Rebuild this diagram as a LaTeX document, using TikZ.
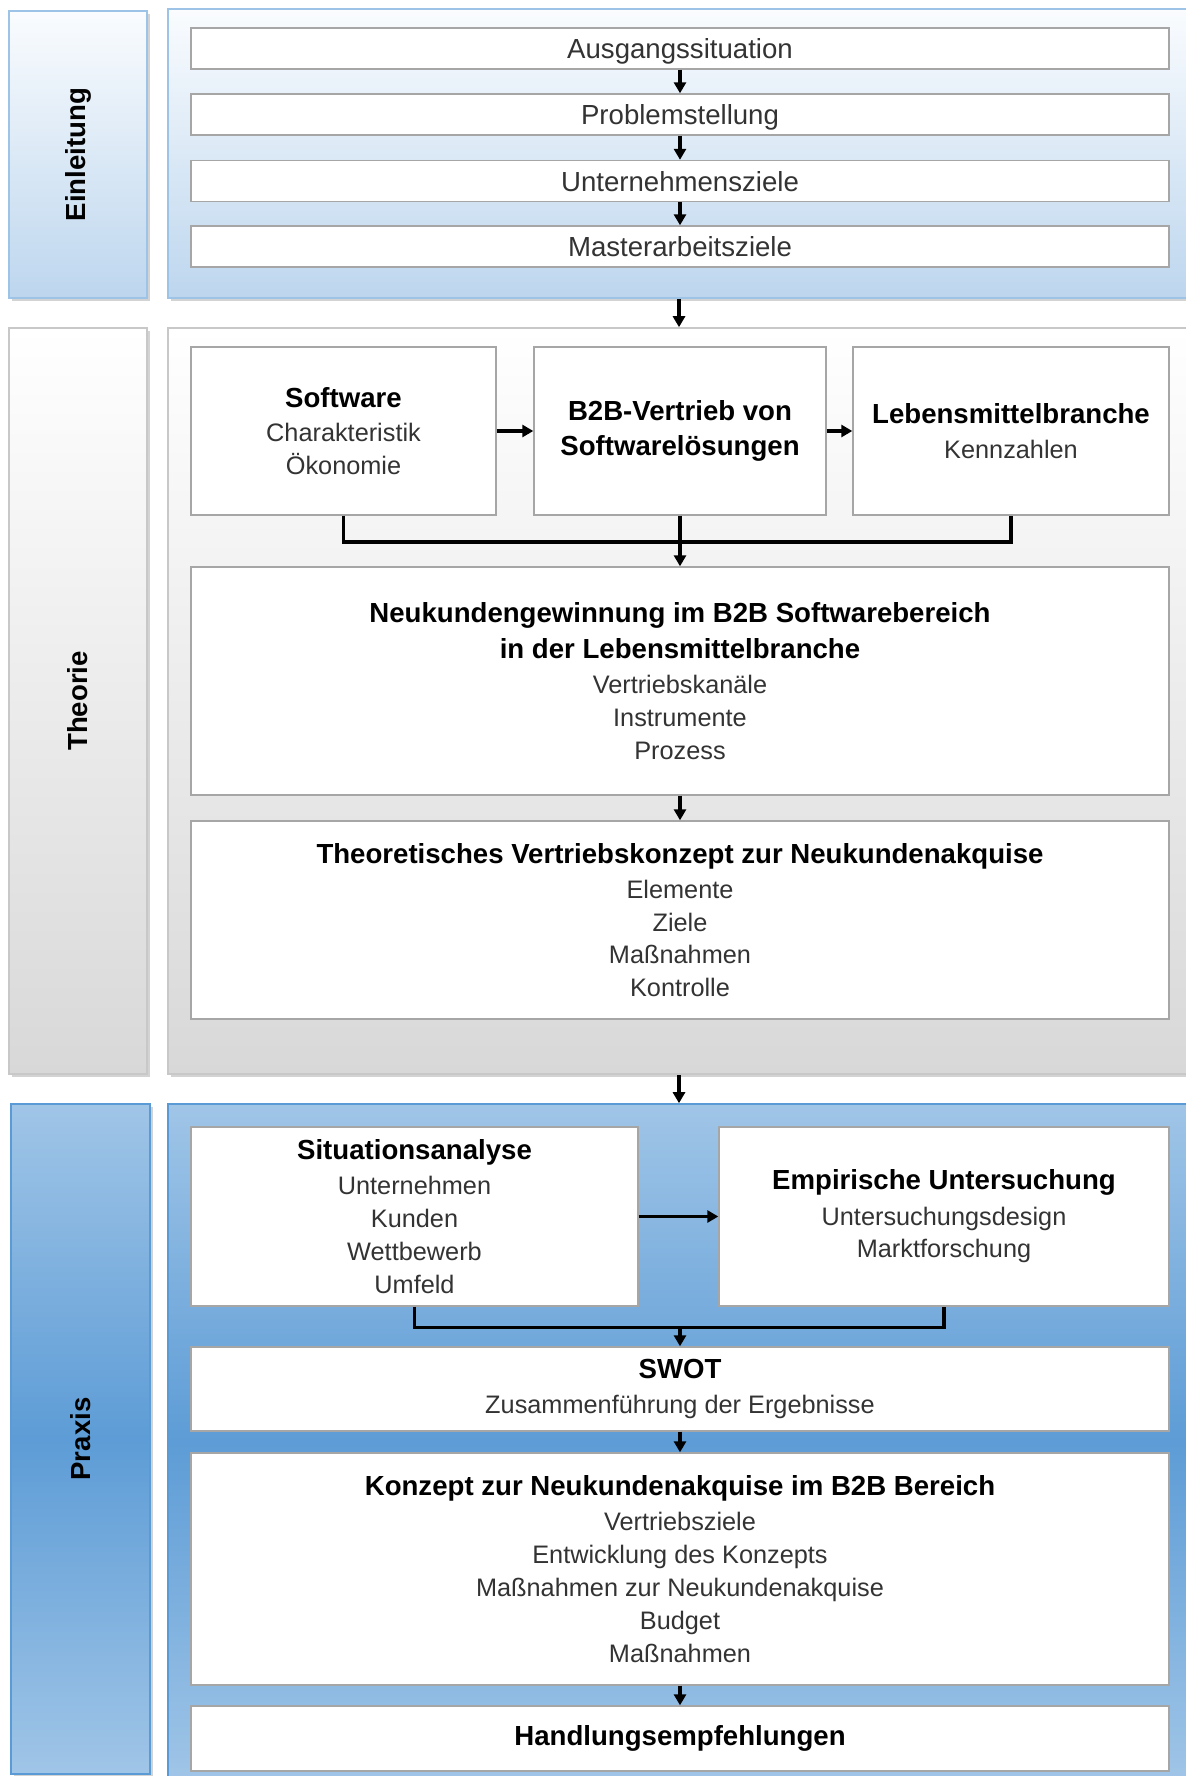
\documentclass[tikz,border=0pt]{standalone}
\usepackage{fontspec}
\setmainfont{Liberation Sans}
\usepackage{tikz}
\usetikzlibrary{arrows.meta, shadows, positioning}
\usepackage{xcolor}

\definecolor{IntroTop}{RGB}{250,252,254}
\definecolor{IntroBottom}{RGB}{189,214,238}
\definecolor{IntroEdge}{RGB}{157,195,230}
\definecolor{TheoryBottom}{RGB}{216,216,216}
\definecolor{TheoryEdge}{RGB}{200,200,200}
\definecolor{PraxisLight}{RGB}{160,197,231}
\definecolor{PraxisDark}{RGB}{93,156,214}
\definecolor{PraxisEdge}{RGB}{91,155,213}
\definecolor{BoxEdge}{RGB}{166,166,166}

\newcommand{\boxfont}{\fontsize{12.65pt}{16.4pt}\selectfont}
\newcommand{\bigfont}{\fontsize{13.8pt}{16.5pt}\selectfont}
\newcommand{\heading}[1]{{\bigfont\bfseries\color{black}#1}}

\begin{document}
\begin{tikzpicture}[x=0.5pt, y=-0.5pt,
    panel/.style={inner sep=0pt, line width=0.8pt,
      drop shadow={shadow xshift=1.6pt, shadow yshift=-1.6pt, opacity=0.35}},
    intro/.style={panel, draw=IntroEdge, top color=IntroTop, bottom color=IntroBottom},
    theory/.style={panel, draw=TheoryEdge, top color=white, bottom color=TheoryBottom},
    praxis/.style={panel, draw=PraxisEdge, top color=PraxisLight, bottom color=PraxisLight,
      middle color=PraxisDark},
    sidelabel/.style={font=\bigfont\bfseries, text=black},
    stepbox/.style={draw=BoxEdge, fill=white, line width=0.7pt, inner sep=0pt,
      align=center, font=\boxfont, text=black!80, minimum width=489pt},
    introbox/.style={stepbox, font=\bigfont, minimum height=20.5pt,
      text height=13pt, text depth=2.9pt},
    flow/.style={-{Triangle[length=5.5pt, width=6pt]}, line width=1.6pt},
    bracket/.style={line width=1.9pt}]

      \useasboundingbox (0,0) rectangle (1186,1776);
      \clip (0,0) rectangle (1186,1776);

      % Einleitung panels
      \node[intro, minimum width=69pt, minimum height=143.5pt] (einlSide) at (78,154.5) {};
      \node[sidelabel, rotate=90] (einlLabel) at (einlSide) {Einleitung};
      \node[intro, minimum width=511pt, minimum height=144.5pt] (einlMain) at (679,153.5) {};

      \node[introbox] (ausg) at (680,48.5) {Ausgangssituation};
      \node[introbox] (prob) at (680,114.5) {Problemstellung};
      \node[introbox] (uziele) at (680,181) {Unternehmensziele};
      \node[introbox] (mziele) at (680,246.5) {Masterarbeitsziele};

      \draw[flow] (ausg) -- (prob);
      \draw[flow] (prob) -- (uziele);
      \draw[flow] (uziele) -- (mziele);

      % Theorie panels
      \node[theory, minimum width=69pt, minimum height=373pt] (theoSide) at (78,701) {};
      \node[sidelabel, rotate=90] (theoLabel) at (theoSide) {Theorie};
      \node[theory, minimum width=511pt, minimum height=373pt] (theoMain) at (679,701) {};

      \draw[flow] (einlMain.south) -- (theoMain.north);

      \node[stepbox, minimum width=152.5pt, minimum height=84pt] (software) at (343.5,431)
            {\heading{Software}\\[1pt]Charakteristik\\Ökonomie};
      \node[stepbox, minimum width=146pt, minimum height=84pt] (b2b) at (680,431)
            {\heading{B2B-Vertrieb von}\\[1.5pt]\heading{Softwarelösungen}};
      \node[stepbox, minimum width=158pt, minimum height=84pt] (lebens) at (1011,431)
            {\heading{Lebensmittelbranche}\\[1pt]Kennzahlen};
      \node[stepbox, minimum height=114pt] (neukunden) at (680,681)
            {\heading{Neukundengewinnung im B2B Softwarebereich}\\[1.6pt]
             \heading{in der Lebensmittelbranche}\\[1.2pt]
             Vertriebskanäle\\Instrumente\\Prozess};
      \node[stepbox, minimum height=99pt] (theokonzept) at (680,920)
            {\heading{Theoretisches Vertriebskonzept zur Neukundenakquise}\\[1.2pt]
             Elemente\\Ziele\\Maßnahmen\\Kontrolle};

      \draw[flow] (software) -- (b2b);
      \draw[flow] (b2b) -- (lebens);
      \draw[bracket] (software.south) -- ++(0,26) -| (lebens.south);
      \draw[flow] (b2b.south) -- (neukunden.north);
      \draw[flow] (neukunden) -- (theokonzept);

      % Praxis panels
      \node[praxis, minimum width=69.5pt, minimum height=335pt] (praxSide) at (80.5,1439) {};
      \node[sidelabel, rotate=90] (praxLabel) at (praxSide) {Praxis};
      \node[praxis, minimum width=511pt, minimum height=338pt] (praxMain) at (679,1442) {};

      \draw[flow] (theoMain.south) -- (praxMain.north);

      \node[stepbox, minimum width=223.5pt, minimum height=89.5pt] (situation) at (414.5,1216.5)
            {\heading{Situationsanalyse}\\[1.2pt]Unternehmen\\Kunden\\Wettbewerb\\Umfeld};
      \node[stepbox, minimum width=225pt, minimum height=89.5pt] (empirie) at (944,1216.5)
            {\heading{Empirische Untersuchung}\\[1.2pt]Untersuchungsdesign\\Marktforschung};
      \node[stepbox, minimum height=42pt] (swot) at (680,1389)
            {\heading{SWOT}\\[1.2pt]Zusammenführung der Ergebnisse};
      \node[stepbox, minimum height=116pt] (konzept) at (680,1569)
            {\heading{Konzept zur Neukundenakquise im B2B Bereich}\\[1.2pt]
             Vertriebsziele\\Entwicklung des Konzepts\\Maßnahmen zur Neukundenakquise\\
             Budget\\Maßnahmen};
      \node[stepbox, minimum height=32.5pt] (handlung) at (680,1738.5)
            {\heading{Handlungsempfehlungen}};

      \coordinate (praxJoin) at (swot.north |- 0,1327.5);
      \draw[flow] (situation) -- (empirie);
      \draw[bracket] (situation.south) -- (situation.south |- praxJoin) -| (empirie.south);
      \draw[flow] (praxJoin) -- (swot.north);
      \draw[flow] (swot) -- (konzept);
      \draw[flow] (konzept) -- (handlung);

    \end{tikzpicture}
\end{document}
